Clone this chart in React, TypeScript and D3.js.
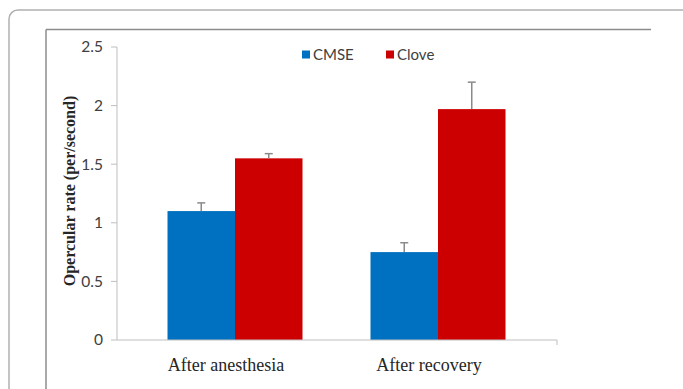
import React from "react";
import * as d3 from "d3";

const categories = ["After anesthesia", "After recovery"];
const seriesNames = ["CMSE", "Clove"];
const cmseValues = [1.1, 0.75];
const cmseErrors = [0.07, 0.08];
const cloveValues = [1.55, 1.97];
const cloveErrors = [0.04, 0.23];
const yTicks = [0, 0.5, 1, 1.5, 2, 2.5];
const colors = ["#0070C0", "#CC0000"];

export default function App() {
  const W = 683, H = 389;
  const y = d3.scaleLinear().domain([0, 2.5]).range([340, 47]);
  const x0 = d3.scaleBand<string>().domain(categories).range([133.5, 539.5]).paddingInner(0).paddingOuter(0);
  const groupW = 135;
  const x1 = d3.scaleBand<string>().domain(seriesNames).range([0, groupW]).padding(0);
  const series = [
    { name: "CMSE", values: cmseValues, errors: cmseErrors, color: colors[0] },
    { name: "Clove", values: cloveValues, errors: cloveErrors, color: colors[1] },
  ];
  const axisLeft = 117, axisRight = 557, axisY = y(0);
  const gx = (c: string) => (x0(c) ?? 0) + (x0.bandwidth() - groupW) / 2;
  return (
    <svg width={W} height={H} style={{ position: "absolute", left: 0, top: 0, background: "#fff" }}>
      <rect x={9} y={10} width={690} height={400} rx={9} fill="#fff" stroke="#b0b0b0" strokeWidth={1.5} />
      <line x1={46} y1={29.5} x2={651} y2={29.5} stroke="#8c8c8c" strokeWidth={1.5} />
      <line x1={46} y1={29.5} x2={46} y2={H} stroke="#8c8c8c" strokeWidth={1.5} />
      {/* y axis */}
      <line x1={axisLeft} y1={y(2.5)} x2={axisLeft} y2={axisY} stroke="#bfbfbf" strokeWidth={1} />
      {yTicks.map((t) => (
        <g key={t}>
          <line x1={axisLeft - 6} x2={axisLeft} y1={y(t)} y2={y(t)} stroke="#bfbfbf" strokeWidth={1} />
          <text x={103} y={y(t)} dy="0.35em" textAnchor="end" fontFamily="Lato, 'Open Sans', sans-serif" fontSize={15.5} fill="#404040">
            {t}
          </text>
        </g>
      ))}
      {/* bars */}
      {series.map((s) =>
        categories.map((c, i) => {
          const bx = gx(c) + (x1(s.name) ?? 0);
          const bw = x1.bandwidth();
          const cx = bx + bw / 2;
          return (
            <g key={s.name + c}>
              <rect x={bx} y={y(s.values[i])} width={bw} height={axisY - y(s.values[i])} fill={s.color} />
              <line x1={cx} x2={cx} y1={y(s.values[i])} y2={y(s.values[i] + s.errors[i])} stroke="#8a8a8a" strokeWidth={1.5} />
              <line x1={cx - 4} x2={cx + 4} y1={y(s.values[i] + s.errors[i])} y2={y(s.values[i] + s.errors[i])} stroke="#8a8a8a" strokeWidth={1.5} />
            </g>
          );
        })
      )}
      {/* x axis */}
      <line x1={axisLeft} y1={axisY} x2={axisRight} y2={axisY} stroke="#bfbfbf" strokeWidth={1} />
      <line x1={axisRight} y1={axisY} x2={axisRight} y2={axisY + 5} stroke="#bfbfbf" strokeWidth={1} />
      {categories.map((c) => (
        <text key={c} x={(x0(c) ?? 0) + x0.bandwidth() / 2 - 9} y={371} textAnchor="middle" fontFamily="'Liberation Serif', 'Times New Roman', serif" fontSize={18} fill="#262626">
          {c}
        </text>
      ))}
      {/* y title */}
      <text transform={`translate(75,191) rotate(-90)`} textAnchor="middle" fontFamily="'Liberation Serif', 'Times New Roman', serif" fontWeight="bold" fontSize={16} fill="#262626">
        Opercular rate (per/second)
      </text>
      {/* legend */}
      {series.map((s, i) => {
        const lx = [302, 386][i];
        return (
          <g key={s.name}>
            <rect x={lx} y={50.5} width={8} height={8} fill={s.color} />
            <text x={lx + 11} y={59.5} fontFamily="Lato, 'Open Sans', sans-serif" fontSize={15} fill="#404040">
              {s.name}
            </text>
          </g>
        );
      })}
    </svg>
  );
}
